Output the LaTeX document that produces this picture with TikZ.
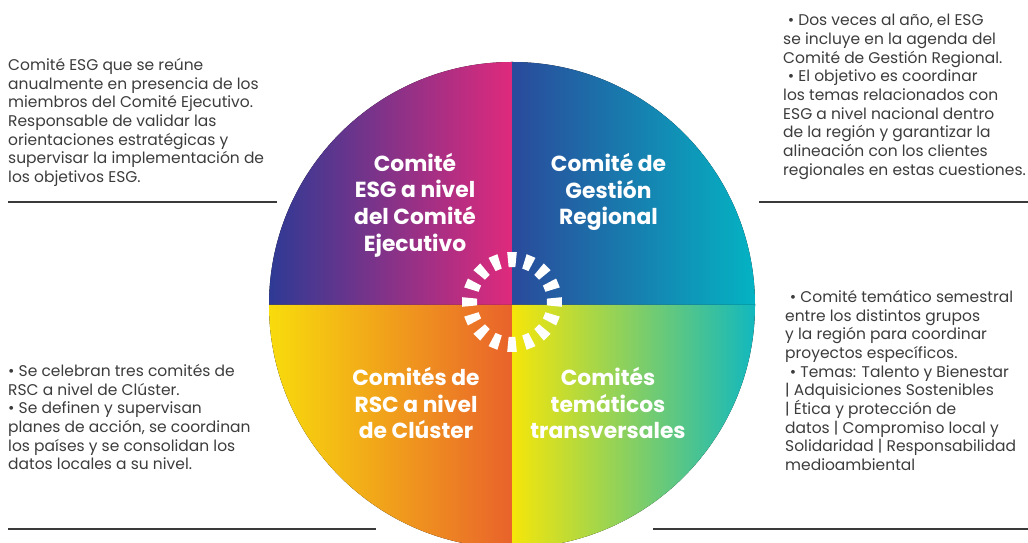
\documentclass[tikz,border=0pt]{standalone}
\usepackage{fontspec}
\setmainfont{Poppins}
\usetikzlibrary{positioning, calc}

\definecolor{notegray}{HTML}{3C3C3C}
\definecolor{rulegray}{HTML}{3A3A3A}
\definecolor{ejecL}{HTML}{2E3A94}
\definecolor{ejecR}{HTML}{DF2A7C}
\definecolor{gestL}{HTML}{2A4A9B}
\definecolor{gestR}{HTML}{04B3C3}
\definecolor{rscL}{HTML}{F8DC0C}
\definecolor{rscR}{HTML}{E9622B}
\definecolor{temaL}{HTML}{F5E60A}
\definecolor{temaM}{HTML}{8ECE58}
\definecolor{temaR}{HTML}{12B8BE}

\begin{document}
\begin{tikzpicture}[
        x=1pt, y=1pt,
        title/.style={align=center, text=white, inner sep=0pt, font=\fontsize{21.8}{26.6}\selectfont\bfseries},
        note/.style={align=left, anchor=north west, inner sep=0pt, text=notegray, font=\fontsize{15.5}{18.7}\selectfont},
        rule/.style={draw=rulegray, line width=1.3pt},
        dash tick/.style={fill=white}
    ]
        \useasboundingbox (0,0) rectangle (1028,543);
        \coordinate (c) at (512,238);
        \coordinate (ring) at (512,241);
        \fill[left color=ejecL, right color=ejecR] (c) -- ++(0,243) arc[start angle=90, end angle=180, radius=243] -- cycle;
        \fill[left color=gestL, right color=gestR] (c) -- ++(243,0) arc[start angle=0, end angle=90, radius=243] -- cycle;
        \fill[left color=rscL, right color=rscR] (c) -- ++(-243,0) arc[start angle=180, end angle=270, radius=243] -- cycle;
        \fill[left color=temaL, middle color=temaM, right color=temaR] (c) -- ++(0,-243) arc[start angle=270, end angle=360, radius=243] -- cycle;
        \foreach \a in {0,22.5,...,337.5}
            \fill[dash tick, shift={(ring)}, rotate=\a] (-5.5:35) -- (-5.5:50) -- (5.5:50) -- (5.5:35) -- cycle;
        \node[title] (ejec) at (415,338) {Comité\\ESG a nivel\\del Comité\\Ejecutivo};
        \node[title] (gest) at (608.5,351) {Comité de\\Gestión\\Regional};
        \node[title] (rsc) at (416,140) {Comités de\\RSC a nivel\\de Clúster};
        \node[title] (tema) at (608,140) {Comités\\temáticos\\transversales};
        \node[note] (ejecTxt) at (8,485) {Comité ESG que se reúne\\anualmente en presencia de los\\miembros del Comité Ejecutivo.\\Responsable de validar las\\orientaciones estratégicas y\\supervisar la implementación de\\los objetivos ESG.};
        \node[note] (gestTxt) at (783,529) {\hspace*{0.3em}\textbullet{} Dos veces al año, el ESG\\se incluye en la agenda del\\Comité de Gestión Regional.\\\hspace*{0.3em}\textbullet{} El objetivo es coordinar\\los temas relacionados con\\ESG a nivel nacional dentro\\de la región y garantizar la\\alineación con los clientes\\regionales en estas cuestiones.};
        \node[note] (temaTxt) at (785,253) {\hspace*{0.3em}\textbullet{} Comité temático semestral\\entre los distintos grupos\\y la región para coordinar\\proyectos específicos.\\\hspace*{0.3em}\textbullet{} Temas: Talento y Bienestar\\| Adquisiciones Sostenibles\\| Ética y protección de\\datos | Compromiso local y\\Solidaridad | Responsabilidad\\medioambiental};
        \node[note] (rscTxt) at (8,179) {\textbullet{} Se celebran tres comités de\\RSC a nivel de Clúster.\\\textbullet{} Se definen y supervisan\\planes de acción, se coordinan\\los países y se consolidan los\\datos locales a su nivel.};
        \draw[rule] (8,341) -- (277,341);
        \draw[rule] (759,341) -- (1028,341);
        \draw[rule] (8,14) -- (376,14);
        \draw[rule] (653,14) -- (1028,14);
    \end{tikzpicture}
\end{document}
